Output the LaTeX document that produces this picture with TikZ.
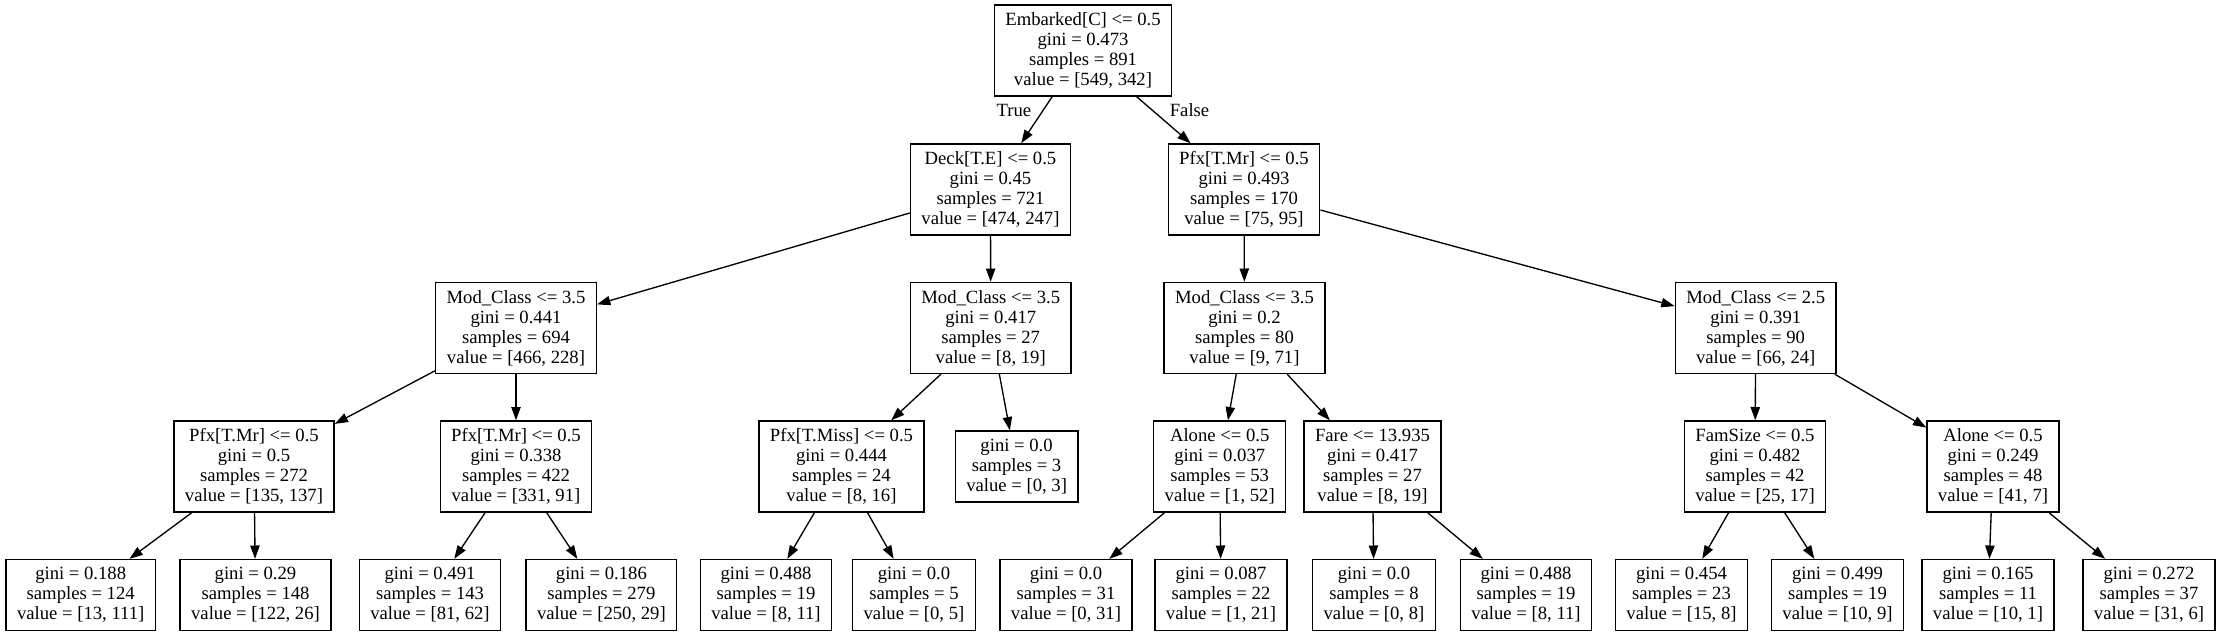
\documentclass[tikz,border=0pt]{standalone}
\usepackage{fontspec}
\setmainfont{Liberation Serif}
\usetikzlibrary{arrows.meta}
\tikzset{->, >={Triangle[length=10pt, width=7pt]},
  split/.style={draw, rectangle, align=center, inner xsep=8.25pt, inner ysep=0pt, minimum height=68.25pt},
  leaf/.style={split, minimum height=53.25pt},
  branch/.style={inner sep=0pt},}

\begin{document}
\begin{tikzpicture}[x=0.75pt, y=-0.75pt, line width=1pt, font=\fontsize{14}{15}\selectfont]
        \useasboundingbox (0,0) rectangle (2221,636);
        \node[split] at (1083,50.4) (emb) {Embarked[C] <= 0.5\\gini = 0.473\\samples = 891\\value = [549, 342]};
        \node[split] at (990.5,189.4) (deck) {Deck[T.E] <= 0.5\\gini = 0.45\\samples = 721\\value = [474, 247]};
        \node[split] at (1244,189.4) (pfx) {Pfx[T.Mr] <= 0.5\\gini = 0.493\\samples = 170\\value = [75, 95]};
        \node[split] at (516,328) (cls1) {Mod\_Class <= 3.5\\gini = 0.441\\samples = 694\\value = [466, 228]};
        \node[split] at (990.7,328) (cls2) {Mod\_Class <= 3.5\\gini = 0.417\\samples = 27\\value = [8, 19]};
        \node[split] at (1244.5,328) (cls3) {Mod\_Class <= 3.5\\gini = 0.2\\samples = 80\\value = [9, 71]};
        \node[split] at (1755.7,328) (cls4) {Mod\_Class <= 2.5\\gini = 0.391\\samples = 90\\value = [66, 24]};
        \node[split] at (254,466.5) (pfxa) {Pfx[T.Mr] <= 0.5\\gini = 0.5\\samples = 272\\value = [135, 137]};
        \node[split] at (516,466.5) (pfxb) {Pfx[T.Mr] <= 0.5\\gini = 0.338\\samples = 422\\value = [331, 91]};
        \node[split] at (841.5,466.5) (miss) {Pfx[T.Miss] <= 0.5\\gini = 0.444\\samples = 24\\value = [8, 16]};
        \node[leaf] at (1016.6,466.5) (g0s3) {gini = 0.0\\samples = 3\\value = [0, 3]};
        \node[split] at (1219.7,466.5) (alone1) {Alone <= 0.5\\gini = 0.037\\samples = 53\\value = [1, 52]};
        \node[split] at (1372.5,466.5) (fare) {Fare <= 13.935\\gini = 0.417\\samples = 27\\value = [8, 19]};
        \node[split] at (1755,466.5) (fam) {FamSize <= 0.5\\gini = 0.482\\samples = 42\\value = [25, 17]};
        \node[split] at (1993,466.5) (alone2) {Alone <= 0.5\\gini = 0.249\\samples = 48\\value = [41, 7]};
        \node[leaf] at (80.7,595) (g188) {gini = 0.188\\samples = 124\\value = [13, 111]};
        \node[leaf] at (255.5,595) (g29) {gini = 0.29\\samples = 148\\value = [122, 26]};
        \node[leaf] at (430,595) (g491) {gini = 0.491\\samples = 143\\value = [81, 62]};
        \node[leaf] at (601.4,595) (g186) {gini = 0.186\\samples = 279\\value = [250, 29]};
        \node[leaf] at (766,595) (g488a) {gini = 0.488\\samples = 19\\value = [8, 11]};
        \node[leaf] at (914,595) (g0s5) {gini = 0.0\\samples = 5\\value = [0, 5]};
        \node[leaf] at (1066,595) (g0s31) {gini = 0.0\\samples = 31\\value = [0, 31]};
        \node[leaf] at (1221,595) (g087) {gini = 0.087\\samples = 22\\value = [1, 21]};
        \node[leaf] at (1374,595) (g0s8) {gini = 0.0\\samples = 8\\value = [0, 8]};
        \node[leaf] at (1526,595) (g488b) {gini = 0.488\\samples = 19\\value = [8, 11]};
        \node[leaf] at (1681.5,595) (g454) {gini = 0.454\\samples = 23\\value = [15, 8]};
        \node[leaf] at (1837.5,595) (g499) {gini = 0.499\\samples = 19\\value = [10, 9]};
        \node[leaf] at (1988,595) (g165) {gini = 0.165\\samples = 11\\value = [10, 1]};
        \node[leaf] at (2149,595) (g272) {gini = 0.272\\samples = 37\\value = [31, 6]};
        
        \draw (emb) edge node[branch, pos=0.29, left=8.5pt] {True} (deck)
                  (emb) edge node[branch, pos=0.29, right=12.75pt] {False} (pfx)
                  (deck) edge (cls1)
                  (deck) edge (cls2)
                  (pfx) edge (cls3)
                  (pfx) edge (cls4)
                  (cls1) edge (pfxa)
                  (cls1) edge (pfxb)
                  (cls2) edge (miss)
                  (cls2) edge (g0s3)
                  (cls3) edge (alone1)
                  (cls3) edge (fare)
                  (cls4) edge (fam)
                  (cls4) edge (alone2)
                  (pfxa) edge (g188)
                  (pfxa) edge (g29)
                  (pfxb) edge (g491)
                  (pfxb) edge (g186)
                  (miss) edge (g488a)
                  (miss) edge (g0s5)
                  (alone1) edge (g0s31)
                  (alone1) edge (g087)
                  (fare) edge (g0s8)
                  (fare) edge (g488b)
                  (fam) edge (g454)
                  (fam) edge (g499)
                  (alone2) edge (g165)
                  (alone2) edge (g272);
    \end{tikzpicture}
\end{document}
